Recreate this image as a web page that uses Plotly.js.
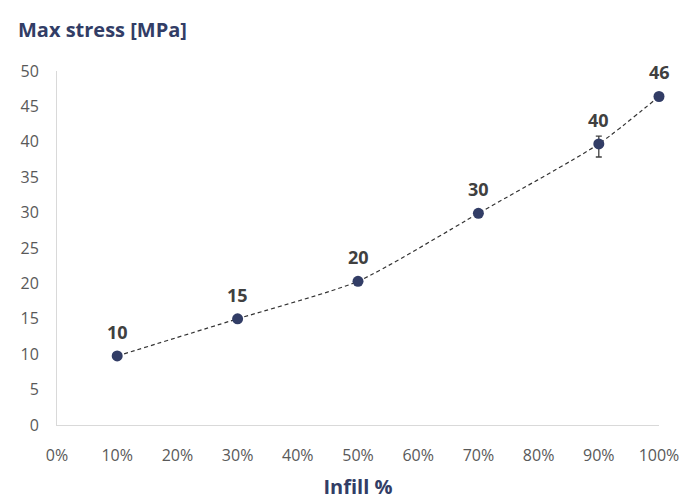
<!DOCTYPE html>
<html>
<head>
<meta charset="utf-8">
<script src="https://cdn.plot.ly/plotly-3.0.1.min.js"></script>
<style>html,body{margin:0;padding:0;background:#fff;}#chart{width:690px;height:500px;}</style>
</head>
<body>
<div id="chart"></div>
<script>
const infill = [0.10, 0.30, 0.50, 0.70, 0.90, 1.00];
const maxStress = [9.75, 15.0, 20.3, 29.9, 39.7, 46.4];
const errPlus = [0.3, 0.3, 0.3, 0.3, 1.1, 0.4];
const errMinus = [0.3, 0.3, 0.3, 0.3, 1.85, 0.4];
const pointLabels = ["10", "15", "20", "30", "40", "46"];
const xTickVals = [0, 0.1, 0.2, 0.3, 0.4, 0.5, 0.6, 0.7, 0.8, 0.9, 1.0];
const xTickText = ["0%", "10%", "20%", "30%", "40%", "50%", "60%", "70%", "80%", "90%", "100%"];

const navy = "#323D66";
const font = "Open Sans, Noto Sans, sans-serif";

const traces = [
  {
    x: infill, y: maxStress, type: "scatter", mode: "lines",
    line: {shape: "spline", smoothing: 0.6, dash: "4px,3px", width: 1.2, color: "#333333"},
    hoverinfo: "skip", showlegend: false, cliponaxis: false
  },
  {
    x: infill, y: maxStress, type: "scatter", mode: "markers",
    marker: {size: 11, color: navy},
    error_y: {type: "data", symmetric: false, array: errPlus, arrayminus: errMinus, color: "#404040", thickness: 1.3, width: 3},
    showlegend: false, cliponaxis: false
  }
];

const annotations = infill.map((xv, i) => ({
  x: xv, y: maxStress[i], xref: "x", yref: "y",
  text: "<b>" + pointLabels[i] + "</b>", showarrow: false,
  yshift: 24, font: {family: font, size: 18, color: "#404040"}
}));

const layout = {
  width: 690, height: 500,
  paper_bgcolor: "#ffffff", plot_bgcolor: "#ffffff",
  margin: {l: 57, r: 31, t: 71, b: 75},
  font: {family: font, color: "#595959", size: 16},
  title: {text: "<b>Max stress [MPa]</b>", x: 0.026, xanchor: "left", y: 0.94, yanchor: "middle",
          font: {family: font, size: 20, color: navy}},
  annotations: annotations,
  xaxis: {
    range: [0, 1.0], tickvals: xTickVals, ticktext: xTickText,
    showgrid: false, zeroline: false, showline: true, linecolor: "#d9d9d9", linewidth: 1,
    ticks: "", ticklabelstandoff: 16, tickfont: {size: 16, color: "#595959"},
    title: {text: "<b>Infill %</b>", font: {family: font, size: 20, color: navy}, standoff: 22}
  },
  yaxis: {
    range: [0, 50], dtick: 5, tick0: 0,
    showgrid: false, zeroline: false, showline: true, linecolor: "#d9d9d9", linewidth: 1,
    ticks: "", ticklabelstandoff: 14, tickfont: {size: 16, color: "#595959"}
  }
};

Plotly.newPlot("chart", traces, layout, {displayModeBar: false, staticPlot: true});
</script>
</body>
</html>
